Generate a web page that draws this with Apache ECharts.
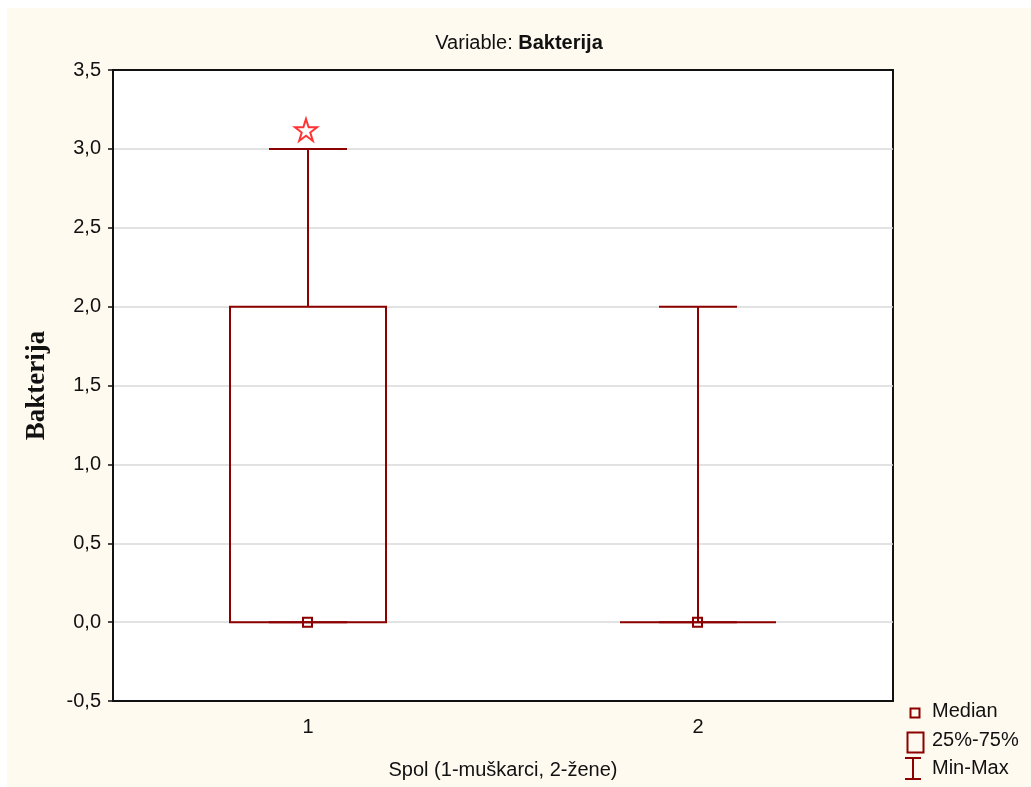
<!DOCTYPE html>
<html>
<head>
<meta charset="utf-8">
<script src="https://cdn.jsdelivr.net/npm/echarts@6/dist/echarts.min.js"></script>
<style>
  html, body { margin: 0; padding: 0; background: #fff; }
  #chart { position: absolute; left: 7px; top: 8px; width: 1024px; height: 779px; background: #fffaf0; }
</style>
</head>
<body>
<div id="chart"></div>
<script>
// box plot values per group (Spol)
const categories = ['1', '2'];
const minValues = [0, 0];
const q1Values = [0, 0];
const medianValues = [0, 0];
const q3Values = [2, 0];
const maxValues = [3, 2];
// outliers: [category index, value]
const outliers = [[0, 3.12]];

const yMin = -0.5;
const yMax = 3.5;
const yStep = 0.5;

const dark = '#8c0000';
const font = 'Liberation Sans, Arial, sans-serif';

const boxData = categories.map((c, i) => [i, minValues[i], q1Values[i], medianValues[i], q3Values[i], maxValues[i]]);

function renderBox(params, api) {
  const idx = api.value(0);
  const lo = api.coord([idx, api.value(1)]);
  const q1 = api.coord([idx, api.value(2)]);
  const med = api.coord([idx, api.value(3)]);
  const q3 = api.coord([idx, api.value(4)]);
  const hi = api.coord([idx, api.value(5)]);
  const band = api.size([1, 0])[0];
  const bw = band * 0.4;
  const cw = band * 0.2;
  const x = q1[0];
  const st = { stroke: dark, lineWidth: 2, fill: null };
  const children = [];

  if (q1[1] - q3[1] > 0.5) {
    children.push({ type: 'rect', shape: { x: x - bw / 2, y: q3[1], width: bw, height: q1[1] - q3[1] }, style: st });
  } else {
    children.push({ type: 'line', shape: { x1: x - bw / 2, y1: q1[1], x2: x + bw / 2, y2: q1[1] }, style: st });
  }
  // upper whisker
  children.push({ type: 'line', shape: { x1: x, y1: q3[1], x2: x, y2: hi[1] }, style: st });
  children.push({ type: 'line', shape: { x1: x - cw / 2, y1: hi[1], x2: x + cw / 2, y2: hi[1] }, style: st });
  // lower whisker
  children.push({ type: 'line', shape: { x1: x, y1: q1[1], x2: x, y2: lo[1] }, style: st });
  children.push({ type: 'line', shape: { x1: x - cw / 2, y1: lo[1], x2: x + cw / 2, y2: lo[1] }, style: st });
  // median marker
  children.push({ type: 'rect', shape: { x: med[0] - 5, y: med[1] - 4.5, width: 9, height: 9 }, style: { stroke: dark, lineWidth: 2, fill: 'none' } });

  return { type: 'group', children: children };
}

const chart = echarts.init(document.getElementById('chart'));

const option = {
  backgroundColor: 'transparent',
  animation: false,
  title: {
    left: 'center',
    top: 20,
    text: '{a|Variable: }{b|Bakterija}',
    textStyle: {
      fontWeight: 'normal',
      rich: {
        a: { fontFamily: font, fontSize: 20, fontWeight: 'normal', color: '#111' },
        b: { fontFamily: font, fontSize: 20, fontWeight: 'bold', color: '#111' }
      }
    }
  },
  grid: {
    left: 106,
    top: 62,
    width: 780,
    height: 631,
    show: true,
    backgroundColor: '#fff',
    borderColor: '#111',
    borderWidth: 2
  },
  xAxis: {
    type: 'category',
    data: categories,
    boundaryGap: true,
    name: 'Spol (1-muškarci, 2-žene)',
    nameLocation: 'middle',
    nameGap: 59,
    nameTextStyle: { fontFamily: font, fontSize: 20, color: '#111' },
    axisLine: { onZero: false, lineStyle: { color: '#111', width: 2 } },
    axisTick: { alignWithLabel: true, length: 5, lineStyle: { color: '#111', width: 1.5 } },
    axisLabel: { margin: 16, fontFamily: font, fontSize: 20, color: '#111' },
    splitLine: { show: false }
  },
  yAxis: {
    type: 'value',
    min: yMin,
    max: yMax,
    interval: yStep,
    name: 'Bakterija',
    nameLocation: 'middle',
    nameGap: 62,
    nameTextStyle: { fontFamily: 'Liberation Serif, Times New Roman, serif', fontSize: 27, fontWeight: 'bold', color: '#111' },
    axisLine: { show: true, onZero: false, lineStyle: { color: '#111', width: 2 } },
    axisTick: { show: true, length: 5, lineStyle: { color: '#111', width: 1.5 } },
    axisLabel: {
      margin: 12,
      fontFamily: font,
      fontSize: 20,
      color: '#111',
      formatter: v => v.toFixed(1).replace('.', ',')
    },
    splitLine: { show: true, showMinLine: false, showMaxLine: false, lineStyle: { color: '#d9d9d9', width: 1.5 } }
  },
  series: [
    {
      type: 'custom',
      name: 'box',
      renderItem: renderBox,
      data: boxData,
      encode: { x: 0, y: [1, 2, 3, 4, 5] },
      z: 3
    },
    {
      type: 'scatter',
      name: 'outlier',
      data: outliers,
      symbol: 'path://M50 2 L61.8 38 L99 38 L69 60 L80.5 96 L50 74 L19.5 96 L31 60 L1 38 L38.2 38 Z',
      symbolSize: 22,
      symbolOffset: [-2, 0],
      itemStyle: { color: '#fff', borderColor: '#ff0000', borderWidth: 2 },
      z: 4
    }
  ],
  graphic: [
    // legend: Median
    { type: 'rect', left: 901, top: 698, shape: { width: 9, height: 9 }, style: { stroke: dark, lineWidth: 2, fill: 'none' } },
    { type: 'text', left: 925, top: 693, style: { text: 'Median', font: '20px ' + font, fill: '#111' } },
    // legend: 25%-75%
    { type: 'rect', left: 898, top: 722, shape: { width: 16, height: 20 }, style: { stroke: dark, lineWidth: 2, fill: 'none' } },
    { type: 'text', left: 925, top: 722, style: { text: '25%-75%', font: '20px ' + font, fill: '#111' } },
    // legend: Min-Max
    { type: 'line', shape: { x1: 906, y1: 750, x2: 906, y2: 771 }, style: { stroke: dark, lineWidth: 2 } },
    { type: 'line', shape: { x1: 898, y1: 750, x2: 914, y2: 750 }, style: { stroke: dark, lineWidth: 2 } },
    { type: 'line', shape: { x1: 898, y1: 771, x2: 914, y2: 771 }, style: { stroke: dark, lineWidth: 2 } },
    { type: 'text', left: 925, top: 750, style: { text: 'Min-Max', font: '20px ' + font, fill: '#111' } }
  ]
};

chart.setOption(option);
</script>
</body>
</html>
